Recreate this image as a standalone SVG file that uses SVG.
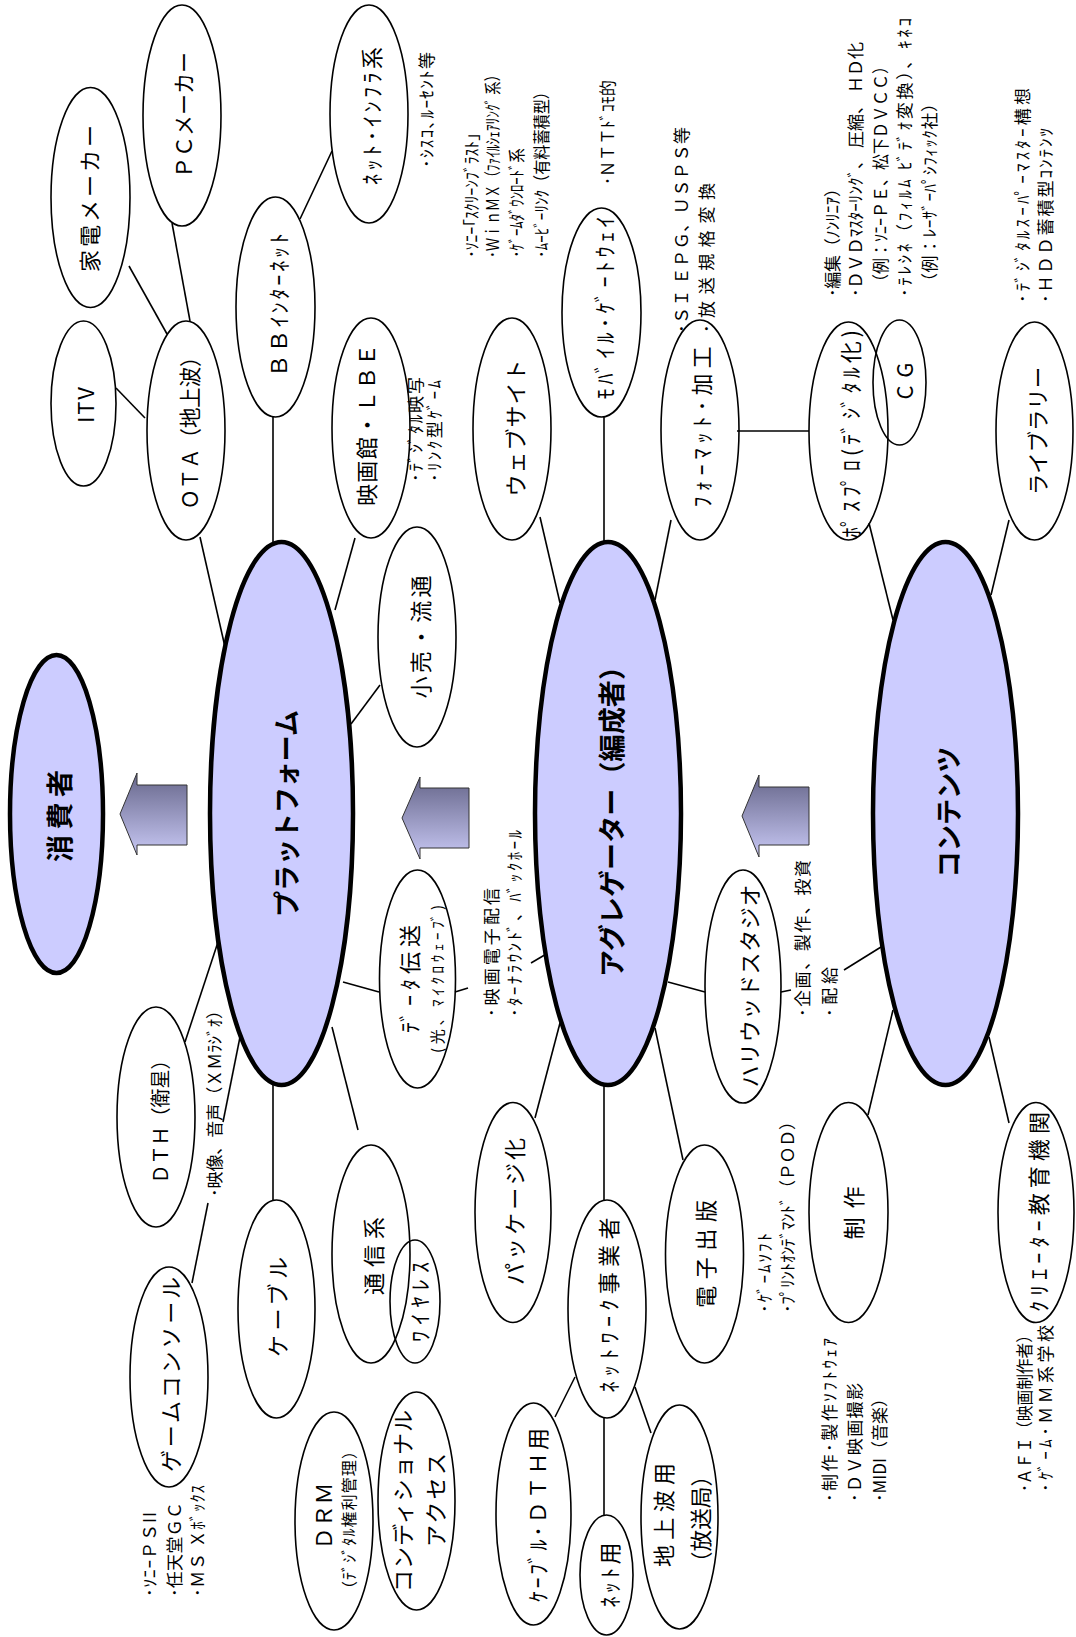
<svg xmlns="http://www.w3.org/2000/svg" width="1076" height="1637" viewBox="0 0 1076 1637">
<defs>
<linearGradient id="ag" x1="0" y1="0" x2="0" y2="1">
<stop offset="0" stop-color="#66668a"/>
<stop offset="1" stop-color="#c8c8f4"/>
</linearGradient>
<style>
.n{fill:none;stroke:#000;stroke-width:1.6}
.big{fill:#ccccff;stroke:#000;stroke-width:4.5}
.c{stroke:#000;stroke-width:1.6;fill:none}
.arr{fill:url(#ag);stroke:#333;stroke-width:1}
text{font-family:"Noto Sans CJK JP","Noto Sans",sans-serif;fill:#000;dominant-baseline:central}
.t{font-size:22px;text-anchor:middle}
.s{font-size:16px;text-anchor:middle}
.b{font-size:27px;font-weight:bold;text-anchor:middle}
.a{font-size:17px;text-anchor:start}
</style>
</defs>
<rect width="1076" height="1637" fill="#fff"/>
<g id="connectors">
<line class="c" x1="172" y1="223" x2="190" y2="321"/>
<line class="c" x1="129" y1="266" x2="167" y2="334"/>
<line class="c" x1="116" y1="388" x2="145" y2="418"/>
<line class="c" x1="300" y1="219" x2="332" y2="151"/>
<line class="c" x1="200" y1="537" x2="225" y2="647"/>
<line class="c" x1="273" y1="417" x2="273" y2="542"/>
<line class="c" x1="355" y1="538" x2="335" y2="610"/>
<line class="c" x1="351" y1="724" x2="380" y2="685"/>
<line class="c" x1="540" y1="517" x2="560" y2="603"/>
<line class="c" x1="604" y1="417" x2="604" y2="542"/>
<line class="c" x1="671" y1="520" x2="655" y2="600"/>
<line class="c" x1="737" y1="431" x2="809" y2="431"/>
<line class="c" x1="869" y1="523" x2="893" y2="620"/>
<line class="c" x1="1009" y1="520" x2="991" y2="595"/>
<line class="c" x1="218" y1="942" x2="185" y2="1042"/>
<line class="c" x1="240" y1="1037" x2="223" y2="1122"/>
<line class="c" x1="208" y1="1203" x2="192" y2="1283"/>
<line class="c" x1="273" y1="1085" x2="273" y2="1200"/>
<line class="c" x1="332" y1="1027" x2="358" y2="1130"/>
<line class="c" x1="343" y1="982" x2="379" y2="992"/>
<line class="c" x1="455" y1="992" x2="468" y2="988"/>
<line class="c" x1="531" y1="963" x2="548" y2="953"/>
<line class="c" x1="560" y1="1023" x2="535" y2="1118"/>
<line class="c" x1="604" y1="1085" x2="604" y2="1200"/>
<line class="c" x1="655" y1="1028" x2="683" y2="1160"/>
<line class="c" x1="668" y1="982" x2="705" y2="992"/>
<line class="c" x1="781" y1="992" x2="791" y2="990"/>
<line class="c" x1="844" y1="970" x2="881" y2="947"/>
<line class="c" x1="893" y1="1010" x2="868" y2="1115"/>
<line class="c" x1="989" y1="1037" x2="1009" y2="1123"/>
<line class="c" x1="575" y1="1377" x2="555" y2="1417"/>
<line class="c" x1="604" y1="1418" x2="604" y2="1515"/>
<line class="c" x1="635" y1="1387" x2="651" y2="1433"/>
</g>
<g id="arrows">
<polygon class="arr" points="120,814 137,773 137,785 187,785 187,845 137,845 137,855"/>
<polygon class="arr" points="402,818 420,777 420,788 469,788 469,848 420,848 420,859"/>
<polygon class="arr" points="742,816 759,775 759,787 809,787 809,845 759,845 759,857"/>
</g>
<g id="n-kaden"><ellipse class="n" cx="90.5" cy="197.5" rx="39.5" ry="110"/><text class="t" transform="translate(88,198.5) rotate(-90)" textLength="147" lengthAdjust="spacing">家電メーカー</text></g>
<g id="n-pc"><ellipse class="n" cx="182" cy="115.5" rx="39" ry="110.5"/><text class="t" transform="translate(182,115) rotate(-90)" textLength="126" lengthAdjust="spacingAndGlyphs">ＰＣメーカー</text></g>
<g id="n-netinfra"><ellipse class="n" cx="369" cy="114" rx="39" ry="109"/><text class="t" transform="translate(370,116) rotate(-90)" textLength="138" lengthAdjust="spacing">ﾈｯﾄ･ｲﾝﾌﾗ系</text></g>
<g id="n-bb"><ellipse class="n" cx="275.5" cy="307" rx="39.5" ry="110"/><text class="t" transform="translate(277,305) rotate(-90)" textLength="144" lengthAdjust="spacing">ＢＢｲﾝﾀｰﾈｯﾄ</text></g>
<g id="n-itv"><ellipse class="n" cx="83.5" cy="403.5" rx="32.5" ry="82.5"/><text class="t" transform="translate(84,405) rotate(-90)" textLength="36" lengthAdjust="spacing">ITV</text></g>
<g id="n-ota"><ellipse class="n" cx="186" cy="430.5" rx="39" ry="109.5"/><text class="t" transform="translate(188,428) rotate(-90)" textLength="163" lengthAdjust="spacingAndGlyphs">ＯＴＡ（地上波）</text></g>
<g id="n-eiga"><ellipse class="n" cx="371" cy="428" rx="39" ry="110"/><text class="t" transform="translate(365,425) rotate(-90)" textLength="162" lengthAdjust="spacing">映画館・ＬＢＥ</text></g>
<g id="n-kouri"><ellipse class="n" cx="417" cy="637" rx="39" ry="110"/><text class="t" transform="translate(419,637) rotate(-90)" textLength="123" lengthAdjust="spacing">小売・流通</text></g>
<g id="n-web"><ellipse class="n" cx="512" cy="429" rx="39" ry="111"/><text class="t" transform="translate(514,428) rotate(-90)" textLength="137" lengthAdjust="spacing">ウェブサイト</text></g>
<g id="n-mobile"><ellipse class="n" cx="601.5" cy="312.5" rx="39.5" ry="104.5"/><text class="t" transform="translate(603,308) rotate(-90)" textLength="183" lengthAdjust="spacing">ﾓﾊﾞｲﾙ･ｹﾞｰﾄｳｪｲ</text></g>
<g id="n-format"><ellipse class="n" cx="700" cy="430" rx="39" ry="110"/><text class="t" transform="translate(700,427) rotate(-90)" textLength="161" lengthAdjust="spacing">ﾌｫｰﾏｯﾄ･加工</text></g>
<g id="n-pospro"><ellipse class="n" cx="848.5" cy="431" rx="39.5" ry="109"/><text class="t" transform="translate(849,434) rotate(-90)" textLength="208" lengthAdjust="spacing">ﾎﾟｽﾌﾟﾛ(ﾃﾞｼﾞﾀﾙ化)</text></g>
<g id="n-cg"><ellipse class="n" cx="899.5" cy="382.5" rx="26.5" ry="62.5"/><text class="t" transform="translate(903,381) rotate(-90)" textLength="37" lengthAdjust="spacing">CG</text></g>
<g id="n-library"><ellipse class="n" cx="1034.5" cy="431" rx="38.5" ry="109"/><text class="t" transform="translate(1036,431) rotate(-90)" textLength="128" lengthAdjust="spacingAndGlyphs">ライブラリー</text></g>
<g id="n-consumer"><ellipse class="big" cx="56.5" cy="814" rx="46.5" ry="159"/><text class="b" transform="translate(58,816) rotate(-90)" textLength="92" lengthAdjust="spacing">消費者</text></g>
<g id="n-platform"><ellipse class="big" cx="281.5" cy="813.5" rx="71.5" ry="271.5"/><text class="b" transform="translate(285,813.5) rotate(-90)" textLength="207" lengthAdjust="spacingAndGlyphs">プラットフォーム</text></g>
<g id="n-aggregator"><ellipse class="big" cx="608" cy="813.5" rx="73" ry="271.5"/><text class="b" transform="translate(610,815) rotate(-90)" textLength="324" lengthAdjust="spacingAndGlyphs">アグレゲーター（編成者）</text></g>
<g id="n-contents"><ellipse class="big" cx="945.5" cy="813.5" rx="72.5" ry="271.5"/><text class="b" transform="translate(947,812) rotate(-90)" textLength="131" lengthAdjust="spacingAndGlyphs">コンテンツ</text></g>
<g id="n-dth"><ellipse class="n" cx="156" cy="1117" rx="39" ry="110"/><text class="t" style="font-size:20px" transform="translate(159,1117) rotate(-90)" textLength="133" lengthAdjust="spacingAndGlyphs">ＤＴＨ（衛星）</text></g>
<g id="n-game"><ellipse class="n" cx="169" cy="1377" rx="39" ry="110"/><text class="t" transform="translate(169,1374.5) rotate(-90)" textLength="195" lengthAdjust="spacing">ゲームコンソール</text></g>
<g id="n-cable"><ellipse class="n" cx="276.5" cy="1309" rx="38.5" ry="109"/><text class="t" transform="translate(276,1307) rotate(-90)" textLength="100" lengthAdjust="spacing">ケーブル</text></g>
<g id="n-tsushin"><ellipse class="n" cx="371" cy="1254" rx="39" ry="109"/><text class="t" transform="translate(372,1256) rotate(-90)" textLength="78" lengthAdjust="spacing">通信系</text></g>
<g id="n-wireless"><ellipse class="n" cx="415" cy="1301.5" rx="25" ry="61.5"/><text class="t" transform="translate(418,1302) rotate(-90)" textLength="80" lengthAdjust="spacing">ﾜｲﾔﾚｽ</text></g>
<g id="n-drm"><ellipse class="n" cx="334" cy="1521" rx="39" ry="109"/><text class="t" transform="translate(322,1516) rotate(-90)" textLength="67" lengthAdjust="spacing">ＤＲＭ</text><text class="s" transform="translate(348,1520) rotate(-90)" textLength="154" lengthAdjust="spacing">（ﾃﾞｼﾞﾀﾙ権利管理）</text></g>
<g id="n-ca"><ellipse class="n" cx="416.5" cy="1501" rx="38.5" ry="109"/><text class="t" transform="translate(401,1501) rotate(-90)" textLength="182" lengthAdjust="spacing">コンディショナル</text><text class="t" transform="translate(434,1500) rotate(-90)" textLength="94" lengthAdjust="spacing">アクセス</text></g>
<g id="n-data"><ellipse class="n" cx="417.5" cy="979" rx="38" ry="109"/><text class="t" transform="translate(408,979) rotate(-90)" textLength="108" lengthAdjust="spacing">ﾃﾞｰﾀ伝送</text><text class="s" style="font-size:15px" transform="translate(436,979) rotate(-90)" textLength="148" lengthAdjust="spacing">(光、ﾏｲｸﾛｳｪｰﾌﾞ)</text></g>
<g id="n-package"><ellipse class="n" cx="513" cy="1212.5" rx="38" ry="110"/><text class="t" transform="translate(513,1211.5) rotate(-90)" textLength="147" lengthAdjust="spacing">パッケージ化</text></g>
<g id="n-network"><ellipse class="n" cx="607" cy="1309" rx="39" ry="109"/><text class="t" transform="translate(607,1305) rotate(-90)" textLength="175" lengthAdjust="spacing">ﾈｯﾄﾜｰｸ事業者</text></g>
<g id="n-ebook"><ellipse class="n" cx="704.5" cy="1254" rx="39" ry="109"/><text class="t" transform="translate(704,1254) rotate(-90)" textLength="108" lengthAdjust="spacing">電子出版</text></g>
<g id="n-cabledth"><ellipse class="n" cx="533.5" cy="1514" rx="37.5" ry="111"/><text class="t" transform="translate(536,1515) rotate(-90)" textLength="174" lengthAdjust="spacing">ｹｰﾌﾞﾙ･ＤＴＨ用</text></g>
<g id="n-netuse"><ellipse class="n" cx="606.5" cy="1575" rx="26.5" ry="60"/><text class="t" transform="translate(608,1575) rotate(-90)" textLength="65" lengthAdjust="spacing">ﾈｯﾄ用</text></g>
<g id="n-chijo"><ellipse class="n" cx="679.5" cy="1517" rx="38.5" ry="112"/><text class="t" transform="translate(662,1515) rotate(-90)" textLength="104" lengthAdjust="spacing">地上波用</text><text class="t" transform="translate(699,1519) rotate(-90)" textLength="108" lengthAdjust="spacingAndGlyphs">（放送局）</text></g>
<g id="n-hollywood"><ellipse class="n" cx="743" cy="986.5" rx="38" ry="116.5"/><text class="t" transform="translate(748,986) rotate(-90)" textLength="203" lengthAdjust="spacing">ハリウッドスタジオ</text></g>
<g id="n-seisaku"><ellipse class="n" cx="848.5" cy="1212.5" rx="39.5" ry="110"/><text class="t" transform="translate(852,1213) rotate(-90)" textLength="53" lengthAdjust="spacing">制作</text></g>
<g id="n-creator"><ellipse class="n" cx="1036" cy="1212.5" rx="38" ry="110"/><text class="t" transform="translate(1037,1212) rotate(-90)" textLength="200" lengthAdjust="spacing">ｸﾘｴｰﾀｰ教育機関</text></g>
<g id="notes">
<text class="a" transform="translate(425,168) rotate(-90)" textLength="116" lengthAdjust="spacing">･ｼｽｺ､ﾙｰｾﾝﾄ等</text>
<text class="a" transform="translate(470,258) rotate(-90)" textLength="125" lengthAdjust="spacingAndGlyphs">･ｿﾆｰ｢ｽｸﾘｰﾝﾌﾞﾗｽﾄ｣</text>
<text class="a" transform="translate(491,258) rotate(-90)" textLength="190" lengthAdjust="spacingAndGlyphs">･ＷｉｎＭＸ（ﾌｧｲﾙｼｪｱﾘﾝｸﾞ 系）</text>
<text class="a" transform="translate(515,258) rotate(-90)" textLength="110" lengthAdjust="spacingAndGlyphs">･ｹﾞｰﾑﾀﾞｳﾝﾛｰﾄﾞ系</text>
<text class="a" transform="translate(540,258) rotate(-90)" textLength="174" lengthAdjust="spacingAndGlyphs">･ﾑｰﾋﾞｰﾘﾝｸ（有料蓄積型）</text>
<text class="a" transform="translate(606,185) rotate(-90)" textLength="105" lengthAdjust="spacingAndGlyphs">･ＮＴＴﾄﾞｺﾓ的</text>
<text class="a" transform="translate(680,333) rotate(-90)" textLength="206" lengthAdjust="spacing">･ＳＩ ＥＰＧ、ＵＳＰＳ等</text>
<text class="a" transform="translate(705,333) rotate(-90)" textLength="150" lengthAdjust="spacing">･放送規格変換</text>
<text class="a" transform="translate(831,297) rotate(-90)" textLength="117" lengthAdjust="spacing">･編集（ﾉﾝﾘﾆｱ）</text>
<text class="a" transform="translate(854,297) rotate(-90)" textLength="255" lengthAdjust="spacing">･ＤＶＤﾏｽﾀｰﾘﾝｸﾞ、 圧縮、 ＨＤ化</text>
<text class="a" transform="translate(879,290) rotate(-90)" textLength="232" lengthAdjust="spacingAndGlyphs">（例：ｿﾆｰＰＥ、松下ＤＶＣＣ）</text>
<text class="a" transform="translate(903,297) rotate(-90)" textLength="279" lengthAdjust="spacing">･ﾃﾚｼﾈ（ﾌｨﾙﾑ ﾋﾞﾃﾞｵ変換）、ｷﾈｺ</text>
<text class="a" transform="translate(928,290) rotate(-90)" textLength="195" lengthAdjust="spacing">（例：ﾚｰｻﾞｰﾊﾟｼﾌｨｯｸ社）</text>
<text class="a" transform="translate(1021,303) rotate(-90)" textLength="215" lengthAdjust="spacing">･ﾃﾞｼﾞﾀﾙｽｰﾊﾟｰﾏｽﾀｰ構想</text>
<text class="a" transform="translate(1044,303) rotate(-90)" textLength="175" lengthAdjust="spacing">･ＨＤＤ蓄積型ｺﾝﾃﾝﾂ</text>
<text class="a" transform="translate(414,482) rotate(-90)" textLength="105" lengthAdjust="spacing">･ﾃﾞｼﾞﾀﾙ映写</text>
<text class="a" transform="translate(433,482) rotate(-90)" textLength="102" lengthAdjust="spacing">･ﾘﾝｸ型ｹﾞｰﾑ</text>
<text class="a" transform="translate(213,1197) rotate(-90)" textLength="195" lengthAdjust="spacing">･映像、音声（ＸＭﾗｼﾞｵ）</text>
<text class="a" transform="translate(490,1017) rotate(-90)" textLength="129" lengthAdjust="spacing">･映画電子配信</text>
<text class="a" transform="translate(513,1017) rotate(-90)" textLength="187" lengthAdjust="spacing">･ﾀｰﾅﾗｳﾝﾄﾞ、ﾊﾞｯｸﾎｰﾙ</text>
<text class="a" transform="translate(801,1017) rotate(-90)" textLength="157" lengthAdjust="spacing">･企画、製作、投資</text>
<text class="a" transform="translate(828,1017) rotate(-90)" textLength="50" lengthAdjust="spacing">･配給</text>
<text class="a" transform="translate(763,1313) rotate(-90)" textLength="80" lengthAdjust="spacing">･ｹﾞｰﾑｿﾌﾄ</text>
<text class="a" transform="translate(786,1313) rotate(-90)" textLength="200" lengthAdjust="spacing">･ﾌﾟﾘﾝﾄｵﾝﾃﾞﾏﾝﾄﾞ（ＰＯＤ）</text>
<text class="a" transform="translate(828,1502) rotate(-90)" textLength="164" lengthAdjust="spacing">･制作･製作ｿﾌﾄｳｪｱ</text>
<text class="a" transform="translate(853,1502) rotate(-90)" textLength="119" lengthAdjust="spacing">･ＤＶ映画撮影</text>
<text class="a" transform="translate(878,1502) rotate(-90)" textLength="112" lengthAdjust="spacing">･MIDI（音楽）</text>
<text class="a" transform="translate(1023,1492) rotate(-90)" textLength="165" lengthAdjust="spacingAndGlyphs">･ＡＦＩ（映画制作者）</text>
<text class="a" transform="translate(1044,1492) rotate(-90)" textLength="167" lengthAdjust="spacing">･ｹﾞｰﾑ･ＭＭ系学校</text>
<text class="a" transform="translate(148,1597) rotate(-90)" textLength="85" lengthAdjust="spacing">･ｿﾆｰＰＳII</text>
<text class="a" transform="translate(173,1597) rotate(-90)" textLength="95" lengthAdjust="spacing">･任天堂ＧＣ</text>
<text class="a" transform="translate(196,1597) rotate(-90)" textLength="112" lengthAdjust="spacing">･ＭＳ Ｘﾎﾞｯｸｽ</text>
</g>
</svg>
